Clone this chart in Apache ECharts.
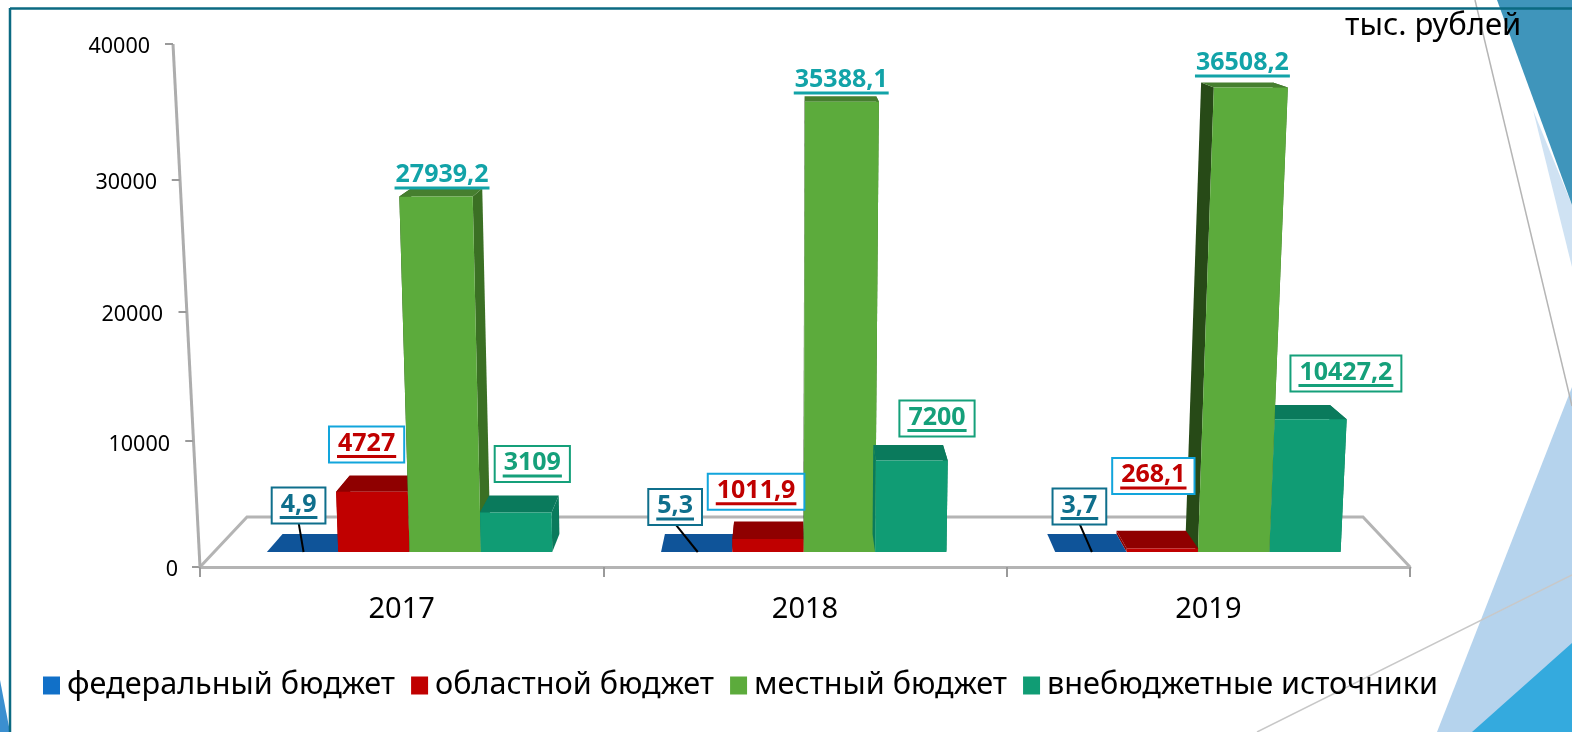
<!DOCTYPE html>
<html>
<head>
<meta charset="utf-8">
<style>
  html, body { margin: 0; padding: 0; background: #fff; }
  #chart { width: 1572px; height: 732px; }
</style>
<script src="https://cdn.jsdelivr.net/npm/echarts@6/dist/echarts.min.js"></script>
</head>
<body>
<div id="chart"></div>
<script>
// data
const years = ['2017', '2018', '2019'];
const yTicks = [0, 10000, 20000, 30000, 40000];
const seriesNames = ['федеральный бюджет', 'областной бюджет', 'местный бюджет', 'внебюджетные источники'];
const federal = [4.9, 5.3, 3.7];
const regional = [4727, 1011.9, 268.1];
const local = [27939.2, 35388.1, 36508.2];
const offBudget = [3109, 7200, 10427.2];

// label placement relative to the top of the bar (dx, dy per year)
const labelOffsets = [
  [[-4, -46.5], [-21.6, -45], [-11.5, -45.5]],
  [[-5.4, -47.3], [-12, -47.3], [-9, -72.6]],
  [[6, -20.5], [-0.7, -20.7], [-8.4, -23.4]],
  [[16.5, -48.4], [25.2, -42], [35.3, -45.8]]
];
// the printed axis is bowed a little by the perspective
const tickBow = [0, 4.5, 6, 4.5, -1];

const FONT = '"Noto Sans", sans-serif';
const LABEL_FONT = 'bold 25px "Noto Sans", sans-serif';
const GRAY = '#b4b4b4';

const styles = [
  { legend: '#1170c8', front: '#0f5499', top: '#0f5499', left: '#0f5499', right: '#0f5499', text: '#0f6f8c', border: '#0f6f8c', box: true },
  { legend: '#c00000', front: '#c00000', top: '#8f0000', left: '#8f0000', right: '#8f0000', text: '#c00000', border: '#12a5dc', box: true },
  { legend: '#5cab3c', front: '#5cab3c', top: '#467f2f', left: '#274a17', right: '#3b7024', text: '#12a3a8', border: null, box: false },
  { legend: '#109c74', front: '#109c74', top: '#0a7a5c', left: '#0a7a5c', right: '#0a7a5c', text: '#15a07a', border: '#15a07a', box: true }
];

const measure = document.createElement('canvas').getContext('2d');
measure.font = LABEL_FONT;

// vertical edges lean away from the middle of the picture as they go up
function lean(x, h) {
  return x + (x - 770) * 8e-5 * h;
}

function renderBar(s, params, api) {
  const st = styles[s];
  const cat = api.value(0);
  const val = api.value(1);
  const base = api.coord([cat, 0]);
  const tip = api.coord([cat, val]);
  const band = api.size([1, 0])[0];
  const w = band * 0.181;
  const cx = base[0] + (s - 1.5) * w;
  const x0 = cx - w / 2, x1 = cx + w / 2;
  const y0 = base[1], h = y0 - tip[1], y1 = tip[1];

  const dy0 = 18, dy1 = 18 - 0.028 * h;
  const back = x => x + (790 - x) * 0.03;
  const order = cat === 2 ? 3 - s : s;
  const z2 = 10 + order;

  const face = (points, fill) => ({ type: 'polygon', z2: z2, shape: { points: points }, style: { fill: fill } });
  const children = [
    face([[x1, y0], [lean(x1, h), y1], [lean(back(x1), h), y1 - dy1], [back(x1), y0 - dy0]], st.right),
    face([[x0, y0], [lean(x0, h), y1], [lean(back(x0), h), y1 - dy1], [back(x0), y0 - dy0]], st.left),
    face([[lean(x0, h), y1], [lean(x1, h), y1], [lean(back(x1), h), y1 - dy1], [lean(back(x0), h), y1 - dy1]], st.top),
    face([[x0, y0], [x1, y0], [lean(x1, h), y1], [lean(x0, h), y1]], st.front)
  ];

  const off = labelOffsets[s][cat];
  const lx = lean(cx, h) + off[0];
  const ly = y1 + off[1];
  const text = String(val).replace('.', ',');
  const tw = measure.measureText(text).width;
  if (s === 0) {
    children.push({
      type: 'line', z2: 90,
      shape: { x1: lx, y1: ly + 17, x2: cx + 1, y2: y0 },
      style: { stroke: '#000', lineWidth: 2 }
    });
  }
  if (st.box) {
    children.push({
      type: 'rect', z2: 100,
      shape: { x: lx - tw / 2 - 9, y: ly - 18, width: tw + 18, height: 36 },
      style: { fill: '#fff', stroke: st.border, lineWidth: 2 }
    });
  }
  children.push({
    type: 'text', z2: 101,
    style: { text: text, x: lx, y: ly - 1, fill: st.text, font: LABEL_FONT, align: 'center', verticalAlign: 'middle' }
  });
  children.push({
    type: 'line', z2: 101,
    shape: { x1: lx - tw / 2 - 1, y1: ly + 12, x2: lx + tw / 2 + 1, y2: ly + 12 },
    style: { stroke: st.text, lineWidth: 3 }
  });
  return { type: 'group', children: children };
}

// tilted value axis and the floor, drawn through the visible axis scale
function renderFrame(params, api) {
  const grid = params.coordSys;
  const bottom = grid.y + grid.height;
  const slope = 27 / grid.height;
  const v = api.value(0);
  const p = api.coord([0, v]);
  const ax = grid.x - (bottom - p[1]) * slope;
  const ty = p[1] + tickBow[yTicks.indexOf(v)];
  const children = [{
    type: 'line', z2: 2,
    shape: { x1: ax - 8, y1: ty, x2: ax, y2: ty },
    style: { stroke: '#9a9a9a', lineWidth: 2 }
  }];
  if (v === 0) {
    children.push({
      type: 'line', z2: 2,
      shape: { x1: grid.x, y1: bottom, x2: grid.x - grid.height * slope, y2: grid.y - 1 },
      style: { stroke: '#adadad', lineWidth: 3 }
    });
    children.push({
      type: 'polyline', z2: 1,
      shape: { points: [[grid.x, bottom], [grid.x + 47, bottom - 50], [grid.x + grid.width - 47, bottom - 50], [grid.x + grid.width, bottom]] },
      style: { stroke: GRAY, lineWidth: 3, fill: null }
    });
  }
  return { type: 'group', children: children };
}

const values = [federal, regional, local, offBudget];

const option = {
  animation: false,
  backgroundColor: '#fff',
  title: {
    text: 'тыс. рублей', left: 1340, top: 6,
    textStyle: { fontFamily: FONT, fontSize: 31, fontWeight: 'normal', color: '#000' }
  },
  legend: {
    data: seriesNames, left: 38, top: 665, icon: 'rect',
    itemWidth: 17, itemHeight: 18, itemGap: 16,
    textStyle: { fontFamily: FONT, fontSize: 30.6, color: '#000', padding: [0, 0, 0, 2] }
  },
  grid: [
    { left: 200, top: 45, width: 1210, height: 522 }, // visible axes
    { left: 212.5, top: 43, width: 1182.5, height: 509 }  // bars standing further back on the floor
  ],
  xAxis: [
    {
      gridIndex: 0, type: 'category', data: years,
      axisLine: { lineStyle: { color: GRAY, width: 3 } },
      axisTick: { show: true, interval: 0, length: 10, lineStyle: { color: '#9a9a9a', width: 2 } },
      axisLabel: { fontFamily: FONT, fontSize: 29, color: '#000', margin: 28 }
    },
    { gridIndex: 1, type: 'category', data: years, show: false }
  ],
  yAxis: [
    {
      gridIndex: 0, type: 'value', min: 0, max: 40000, interval: 10000,
      splitLine: { show: false }, axisLine: { show: false }, axisTick: { show: false },
      axisLabel: {
        margin: 22,
        formatter: v => '{t' + v / 10000 + '|' + v + '}',
        rich: {
          t0: { fontFamily: FONT, fontSize: 21.5, color: '#000', padding: [6, 0, 0, 0] },
          t1: { fontFamily: FONT, fontSize: 21.5, color: '#000', padding: [17, 8, 0, 0] },
          t2: { fontFamily: FONT, fontSize: 21.5, color: '#000', padding: [18, 15, 0, 0] },
          t3: { fontFamily: FONT, fontSize: 21.5, color: '#000', padding: [15, 21, 0, 0] },
          t4: { fontFamily: FONT, fontSize: 21.5, color: '#000', padding: [4, 28, 0, 0] }
        }
      }
    },
    { gridIndex: 1, type: 'value', min: 0, max: 40000, show: false, splitLine: { show: false } }
  ],
  graphic: [
    { type: 'polygon', z: -10, shape: { points: [[1533, 110], [1572, 205], [1572, 267]] }, style: { fill: '#cfe2f3' } },
    { type: 'polygon', z: -9, shape: { points: [[1497, 0], [1572, 0], [1572, 205]] }, style: { fill: '#3f95bb' } },
    { type: 'polygon', z: -10, shape: { points: [[1437, 732], [1572, 387], [1572, 732]] }, style: { fill: '#b5d3ed' } },
    { type: 'polygon', z: -9, shape: { points: [[1472, 732], [1572, 643], [1572, 732]] }, style: { fill: '#34aade' } },
    { type: 'polygon', z: -9, shape: { points: [[0, 680], [10, 732], [0, 732]] }, style: { fill: '#3b8fd0' } },
    { type: 'line', z: -8, shape: { x1: 1475, y1: 0, x2: 1572, y2: 406 }, style: { stroke: '#b5b5b5', lineWidth: 1.5 } },
    { type: 'line', z: -8, shape: { x1: 1257, y1: 732, x2: 1572, y2: 575 }, style: { stroke: '#c8c8c8', lineWidth: 1.5 } },
    { type: 'line', z: -7, shape: { x1: 10, y1: 8.5, x2: 1572, y2: 8.5 }, style: { stroke: '#0b6a82', lineWidth: 2.5 } },
    { type: 'line', z: -7, shape: { x1: 10, y1: 8, x2: 10, y2: 732 }, style: { stroke: '#0b6a82', lineWidth: 2.5 } }
  ],
  series: [
    {
      name: 'frame', type: 'custom', xAxisIndex: 0, yAxisIndex: 0, silent: true, z: 2,
      encode: { y: 0 }, data: yTicks.map(v => [v]), renderItem: renderFrame, clip: false
    }
  ].concat(seriesNames.map((name, s) => ({
    name: name, type: 'custom', xAxisIndex: 1, yAxisIndex: 1, z: 2, clip: false,
    itemStyle: { color: styles[s].legend },
    encode: { x: 0, y: 1 },
    data: values[s].map((v, i) => [i, v]),
    renderItem: (params, api) => renderBar(s, params, api)
  })))
};

const chart = echarts.init(document.getElementById('chart'));
chart.setOption(option);
window.addEventListener('resize', () => chart.resize());
</script>
</body>
</html>
